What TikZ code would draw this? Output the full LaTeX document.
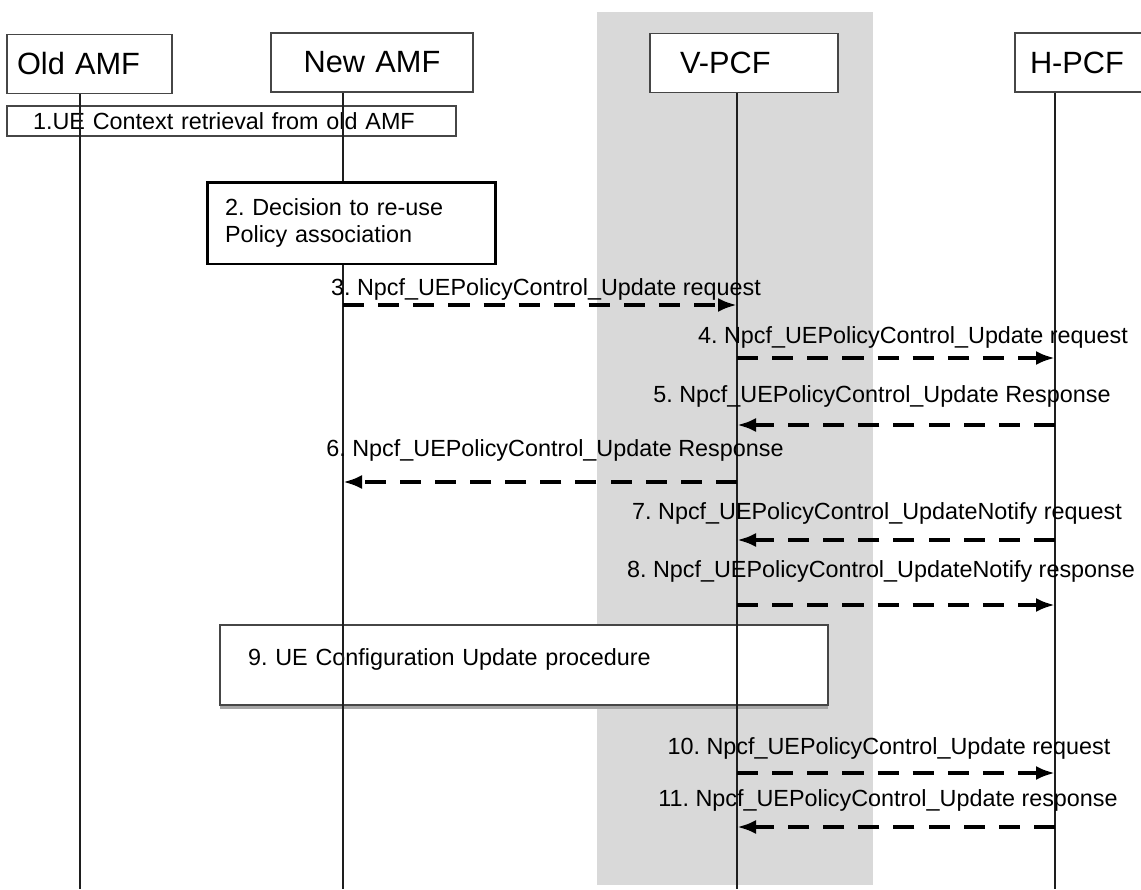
\documentclass[tikz,border=0pt]{standalone}
\usepackage{fontspec}
\setmainfont{Liberation Sans}
\usepackage{xcolor}
\usepackage{tikz}
\usetikzlibrary{arrows.meta, shadows}
\frenchspacing
\definecolor{bandGray}{RGB}{217,217,217}
\definecolor{lineBox}{RGB}{70,70,70}
\definecolor{lineLife}{RGB}{30,30,30}
\tikzset{
  entityNode/.style={
    draw=lineBox,
    line width=0.8pt,
    fill=white,
    minimum height=1.18cm,
    inner ysep=0pt,
    font=\fontsize{17.5}{20}\selectfont
  },
  stepNode/.style={
    draw=lineBox,
    line width=0.8pt,
    fill=white,
    align=left,
    inner ysep=0pt,
    font=\fontsize{13.3}{15.5}\selectfont
  },
  decisionNode/.style={stepNode, draw=black, line width=1.7pt},
  procNode/.style={stepNode, drop shadow={shadow xshift=0pt, shadow yshift=-2pt, fill=gray!70, opacity=1}},
  lifeLine/.style={draw=lineLife, line width=0.7pt},
  msgFlow/.style={-{Latex[length=3.8mm,width=2.8mm]}, line width=2.7pt, dash pattern=on 12pt off 8pt},
  msgLabel/.style={font=\fontsize{13.3}{15.5}\selectfont, inner sep=0pt}
}
\begin{document}
\begin{tikzpicture}[x=0.02cm, y=-0.02cm]
  \useasboundingbox (0,0) rectangle (1141,889);
  \fill[bandGray] (597,12) rectangle (873,885);

  \node[entityNode, minimum width=3.3cm, text width=2.9cm, inner xsep=0.2cm, align=left] (oldamf) at (89.5,64) {Old AMF};
  \node[entityNode, minimum width=4.04cm, text width=3.64cm, inner xsep=0.2cm, align=center] (newamf) at (372,62.5) {New AMF};
  \node[entityNode, minimum width=3.76cm, text width=2.56cm, inner xsep=0.6cm, align=left] (vpcf) at (744,63) {V-PCF};
  \node[entityNode, minimum width=3.1cm, text width=2.5cm, inner xsep=0.3cm, align=left] (hpcf) at (1092.5,62.5) {H-PCF};

  \node[stepNode, minimum width=8.98cm, minimum height=0.6cm, text width=7.94cm, inner xsep=0.52cm] (ctx) at (231.5,121) {1.UE Context retrieval from old AMF};
  \node[procNode, minimum width=12.16cm, minimum height=1.6cm, text width=11.04cm, inner xsep=0.56cm, text depth=0.3cm] (uecfg) at (524,665) {9. UE Configuration Update procedure};

  \coordinate (oldL) at (80,889);
  \coordinate (newL) at (343,889);
  \coordinate (vpcfL) at (737,889);
  \coordinate (hpcfL) at (1055,889);
  \draw[lifeLine] (oldamf.south -| oldL) -- (oldL);
  \draw[lifeLine] (newamf.south -| newL) -- (newL);
  \draw[lifeLine] (vpcf.south -| vpcfL) -- (vpcfL);
  \draw[lifeLine] (hpcf.south -| hpcfL) -- (hpcfL);

  \node[decisionNode, minimum width=5.78cm, minimum height=1.64cm, text width=5.06cm, inner xsep=0.36cm] (reuse) at (351.5,223) {2. Decision to re-use\\Policy association};

  \foreach \n/\y/\src/\dst/\lx/\ly/\txt in {
    3/305/newL/vpcfL/546/289/{3. Npcf\_UEPolicyControl\_Update request},
    4/358/vpcfL/hpcfL/913/337/{4. Npcf\_UEPolicyControl\_Update request},
    5/425/hpcfL/vpcfL/882/396/{5. Npcf\_UEPolicyControl\_Update Response},
    6/482/vpcfL/newL/555/450/{6. Npcf\_UEPolicyControl\_Update Response},
    7/540/hpcfL/vpcfL/877/513/{7. Npcf\_UEPolicyControl\_UpdateNotify request},
    8/605/vpcfL/hpcfL/881/571/{8. Npcf\_UEPolicyControl\_UpdateNotify response},
    10/773/vpcfL/hpcfL/889/748/{10. Npcf\_UEPolicyControl\_Update request},
    11/827/hpcfL/vpcfL/888/800/{11. Npcf\_UEPolicyControl\_Update response}
  }{
    \draw[msgFlow] (\src |- 0,\y) -- (\dst |- 0,\y);
    \node[msgLabel] (msg\n) at (\lx,\ly) {\txt};
  }
\end{tikzpicture}
\end{document}
